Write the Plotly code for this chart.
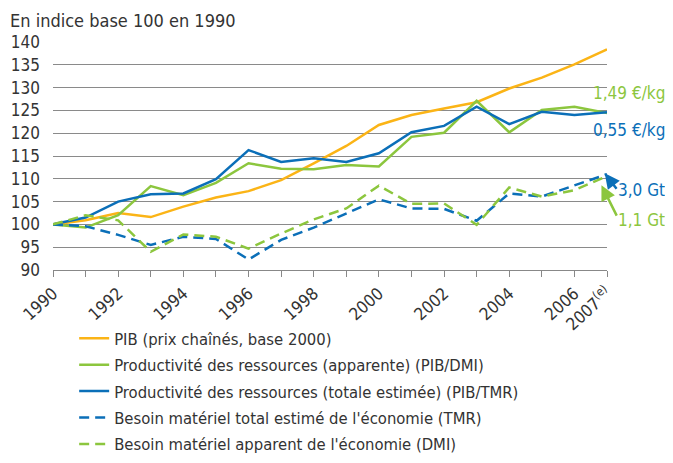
import plotly.graph_objects as go

years = list(range(1990, 2008))
pib = [100, 100.9, 102.5, 101.6, 103.9, 105.9, 107.3, 109.7, 113.4, 117.2, 121.8, 124.0, 125.4, 126.8, 129.8, 132.2, 135.1, 138.4]
prod_dmi = [100, 99.3, 102.0, 108.4, 106.4, 109.1, 113.4, 112.2, 112.1, 113.0, 112.7, 119.2, 120.1, 127.1, 120.2, 125.1, 125.8, 124.4]
prod_tmr = [100, 101.5, 105.0, 106.6, 106.8, 109.9, 116.3, 113.7, 114.5, 113.7, 115.6, 120.2, 121.6, 125.8, 122.0, 124.7, 124.0, 124.6]
tmr = [100, 99.6, 97.7, 95.5, 97.3, 96.8, 92.3, 96.6, 99.3, 102.4, 105.5, 103.5, 103.4, 100.8, 106.8, 106.1, 108.6, 111.0]
dmi = [100, 102.0, 100.9, 94.0, 97.8, 97.3, 94.7, 98.0, 101.1, 103.5, 108.5, 104.5, 104.6, 99.9, 108.1, 106.1, 107.5, 110.6]

tick_labels = ["1990", "", "1992", "", "1994", "", "1996", "", "1998", "", "2000", "", "2002", "", "2004", "", "2006", "2007<sup>(e)</sup>"]

names = [
    "PIB (prix chaînés, base 2000)",
    "Productivité des ressources (apparente) (PIB/DMI)",
    "Productivité des ressources (totale estimée) (PIB/TMR)",
    "Besoin matériel total estimé de l'économie (TMR)",
    "Besoin matériel apparent de l'économie (DMI)",
]

ORANGE = "#FBB416"
GREEN = "#8CC63E"
BLUE = "#0B6FB8"
TXT = "#333333"
FONT = "DejaVu Sans Condensed, Liberation Sans Narrow, Liberation Sans, sans-serif"

fig = go.Figure()
series = [
    (pib, ORANGE, "solid"),
    (prod_dmi, GREEN, "solid"),
    (prod_tmr, BLUE, "solid"),
    (tmr, BLUE, "10px,6px"),
    (dmi, GREEN, "10px,6px"),
]
for i in range(5):
    vals, col, dash = series[i]
    fig.add_trace(go.Scatter(
        x=years, y=vals, mode="lines", name=names[i],
        line=dict(color=col, width=2.5, dash=dash),
        legendgroup=f"g{i}", legendrank=i + 1,
    ))

RX = 1.108  # right edge of the end labels, in paper units

fig.update_layout(
    width=665, height=447,
    margin=dict(l=45, r=66, t=34, b=185, autoexpand=False),
    paper_bgcolor="white", plot_bgcolor="white",
    font=dict(family=FONT, size=17, color=TXT),
    showlegend=True,
    legend=dict(
        xref="container", yref="container",
        x=0.0995, y=0.2998, xanchor="left", yanchor="top",
        orientation="v", tracegroupgap=2,
        font=dict(family=FONT, size=16.5, color=TXT),
        bgcolor="rgba(0,0,0,0)",
    ),
    xaxis=dict(
        range=[1990, 2007], tickmode="array", tickvals=years, ticktext=tick_labels,
        tickangle=-42, ticks="outside", ticklen=6, tickcolor="#888888",
        showgrid=False, showline=True, linecolor="#888888", linewidth=1,
        zeroline=False, automargin=False, tickfont=dict(size=17, color=TXT),
    ),
    yaxis=dict(
        range=[90, 140], dtick=5, showgrid=True, gridcolor="#8a8a8a", gridwidth=1,
        zeroline=False, showline=False, ticks="", automargin=False,
        ticklabelstandoff=12,
        tickfont=dict(size=17, color=TXT),
    ),
    annotations=[
        dict(text="En indice base 100 en 1990", xref="paper", yref="paper", x=-0.081, y=1.096,
             xanchor="left", yanchor="middle", showarrow=False, font=dict(size=18, color=TXT)),
        dict(text="1,49 €/kg", xref="paper", yref="paper", x=RX, y=0.776, xanchor="right",
             yanchor="middle", showarrow=False, font=dict(size=17, color=GREEN)),
        dict(text="0,55 €/kg", xref="paper", yref="paper", x=RX, y=0.614, xanchor="right",
             yanchor="middle", showarrow=False, font=dict(size=17, color=BLUE)),
        dict(text="3,0 Gt", xref="paper", yref="paper", x=RX, y=0.351, xanchor="right",
             yanchor="middle", showarrow=False, font=dict(size=17, color=BLUE)),
        dict(text="1,1 Gt", xref="paper", yref="paper", x=RX, y=0.219, xanchor="right",
             yanchor="middle", showarrow=False, font=dict(size=17, color=GREEN)),
        dict(text="", x=2006.93, y=111.2, ax=13, ay=17, showarrow=True, arrowhead=2,
             arrowsize=1.2, arrowwidth=2.5, arrowcolor=BLUE),
        dict(text="", x=2006.83, y=108.6, ax=16, ay=32, showarrow=True, arrowhead=2,
             arrowsize=1.2, arrowwidth=2.5, arrowcolor=GREEN),
    ],
)

fig.write_html("out.html")
